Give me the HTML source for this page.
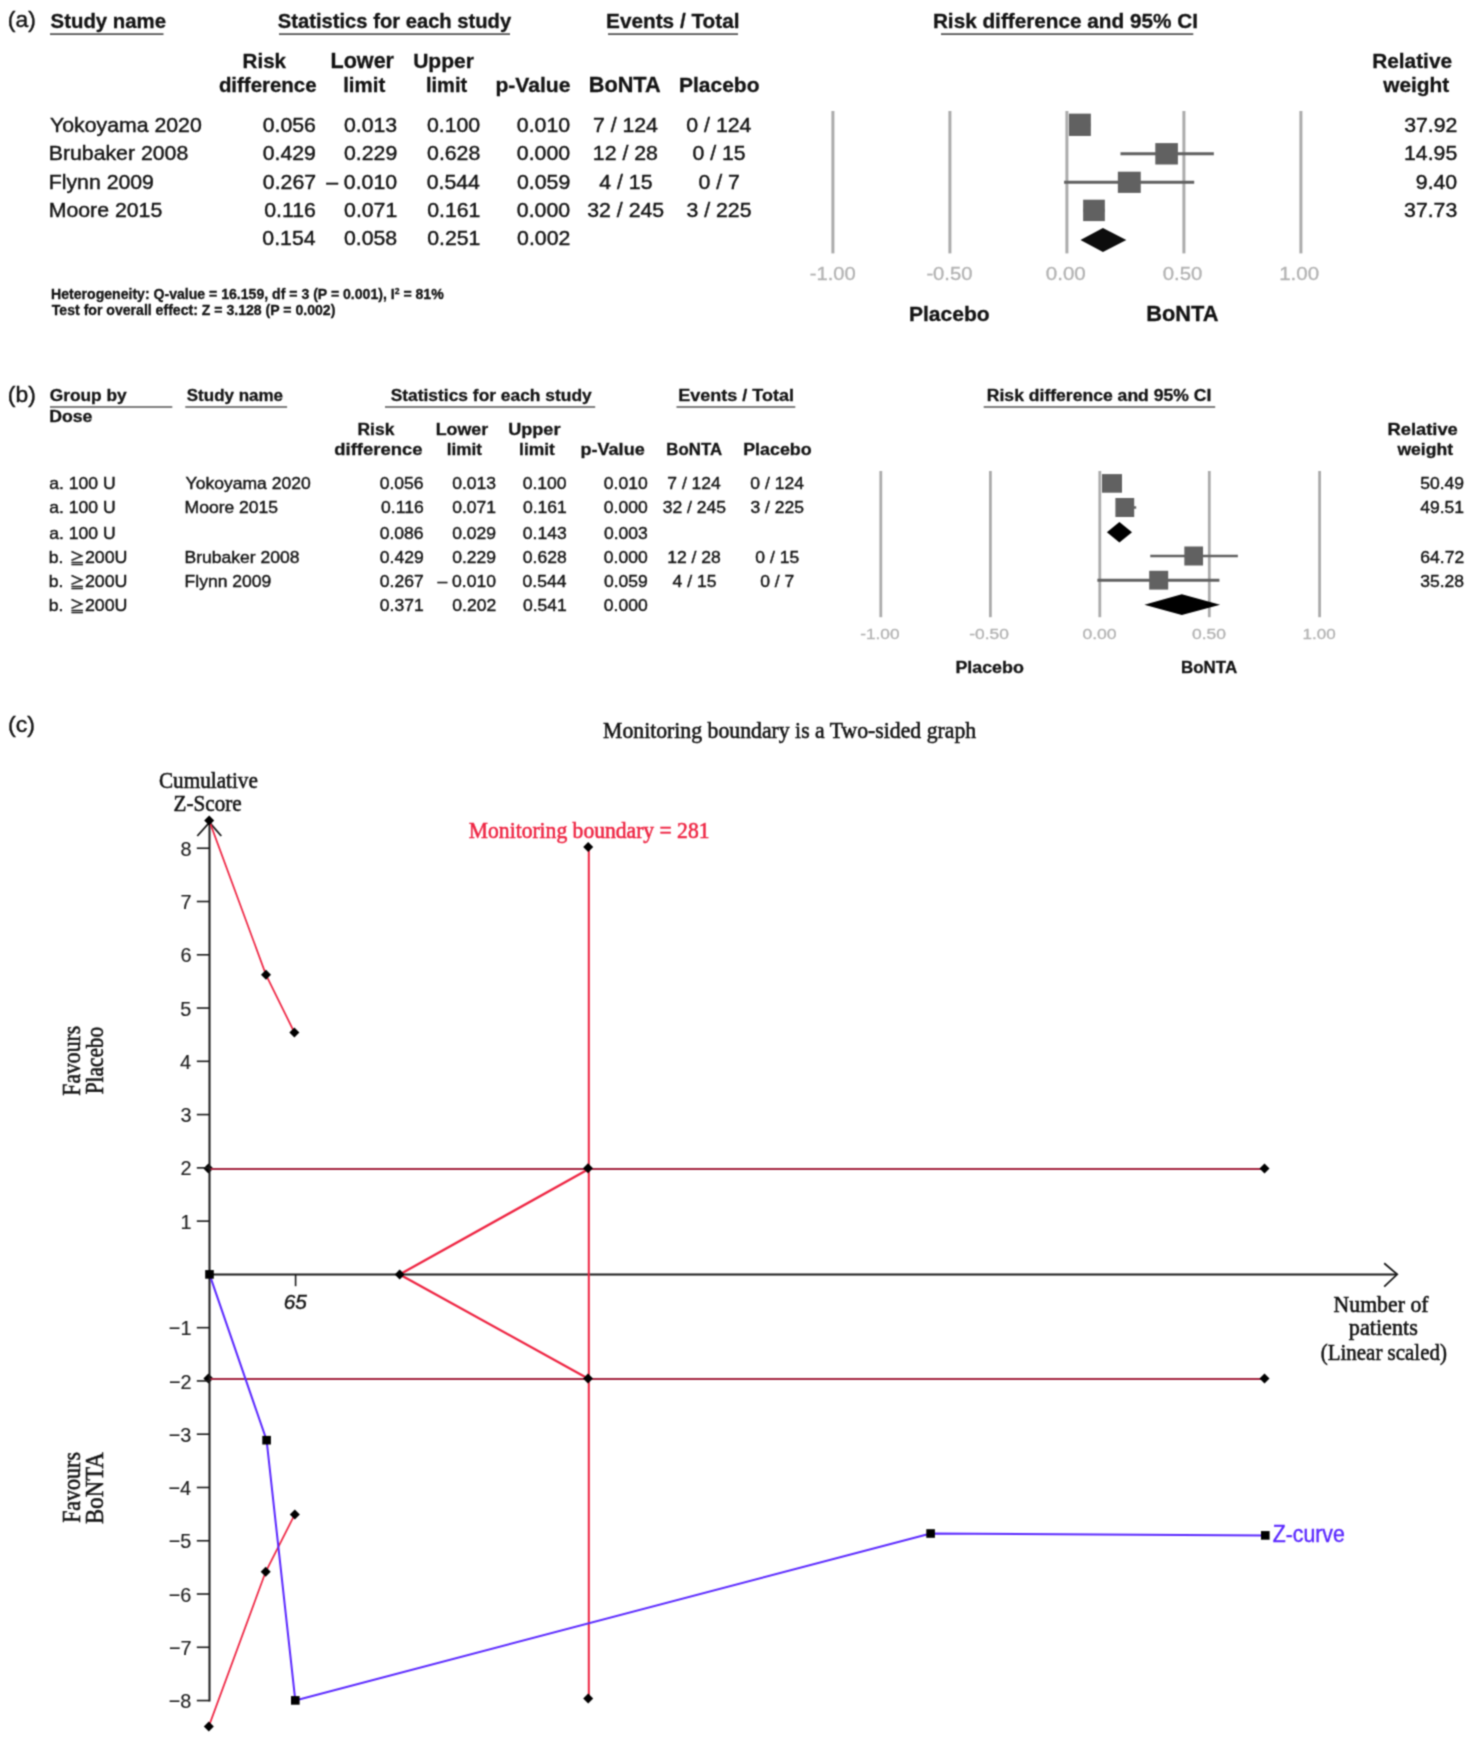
<!DOCTYPE html>
<html lang="en"><head><meta charset="utf-8"><title>Figure</title>
<style>
html,body{margin:0;padding:0;background:#fff;}
body{width:1482px;height:1738px;overflow:hidden;}
svg{display:block;}
</style></head><body>
<svg width="1482" height="1738" viewBox="0 0 1482 1738">
<defs><filter id="soft" x="0" y="0" width="1482" height="1738" filterUnits="userSpaceOnUse" color-interpolation-filters="sRGB"><feConvolveMatrix order="3" kernelMatrix="0.0439 0.1217 0.0439 0.1217 0.3377 0.1217 0.0439 0.1217 0.0439" edgeMode="duplicate" preserveAlpha="true"/></filter></defs>
<g filter="url(#soft)">
<rect width="1482" height="1738" fill="#ffffff"/>
<text transform="translate(7.87 27.00) scale(1.0637 1)" font-family="&quot;Liberation Sans&quot;, Arial, sans-serif" font-size="21.50" fill="#131313" stroke="#131313" stroke-width="0.4">(a)</text>
<text transform="translate(50.59 27.70)" font-family="&quot;Liberation Sans&quot;, Arial, sans-serif" font-size="20.36" font-weight="bold" fill="#131313" stroke="#131313" stroke-width="0.3">Study name</text>
<text transform="translate(277.79 27.70)" font-family="&quot;Liberation Sans&quot;, Arial, sans-serif" font-size="20.19" font-weight="bold" fill="#131313" stroke="#131313" stroke-width="0.3">Statistics for each study</text>
<text transform="translate(606.10 27.70)" font-family="&quot;Liberation Sans&quot;, Arial, sans-serif" font-size="20.75" font-weight="bold" fill="#131313" stroke="#131313" stroke-width="0.3">Events / Total</text>
<text transform="translate(932.90 27.70)" font-family="&quot;Liberation Sans&quot;, Arial, sans-serif" font-size="20.74" font-weight="bold" fill="#131313" stroke="#131313" stroke-width="0.3">Risk difference and 95% CI</text>
<line x1="50.00" y1="34.10" x2="163.50" y2="34.10" stroke="#555555" stroke-width="1.9"/>
<line x1="279.00" y1="34.10" x2="510.00" y2="34.10" stroke="#555555" stroke-width="1.9"/>
<line x1="608.00" y1="34.10" x2="738.00" y2="34.10" stroke="#555555" stroke-width="1.9"/>
<line x1="941.00" y1="34.10" x2="1193.30" y2="34.10" stroke="#555555" stroke-width="1.9"/>
<text transform="translate(242.61 67.60)" font-family="&quot;Liberation Sans&quot;, Arial, sans-serif" font-size="20.54" font-weight="bold" fill="#131313" stroke="#131313" stroke-width="0.3">Risk</text>
<text transform="translate(218.88 92.30)" font-family="&quot;Liberation Sans&quot;, Arial, sans-serif" font-size="20.45" font-weight="bold" fill="#131313" stroke="#131313" stroke-width="0.3">difference</text>
<text transform="translate(330.55 67.60)" font-family="&quot;Liberation Sans&quot;, Arial, sans-serif" font-size="21.55" font-weight="bold" fill="#131313" stroke="#131313" stroke-width="0.3">Lower</text>
<text transform="translate(343.17 92.30)" font-family="&quot;Liberation Sans&quot;, Arial, sans-serif" font-size="20.48" font-weight="bold" fill="#131313" stroke="#131313" stroke-width="0.3">limit</text>
<text transform="translate(413.14 67.60)" font-family="&quot;Liberation Sans&quot;, Arial, sans-serif" font-size="21.03" font-weight="bold" fill="#131313" stroke="#131313" stroke-width="0.3">Upper</text>
<text transform="translate(426.00 92.30)" font-family="&quot;Liberation Sans&quot;, Arial, sans-serif" font-size="20.03" font-weight="bold" fill="#131313" stroke="#131313" stroke-width="0.3">limit</text>
<text transform="translate(495.43 92.30)" font-family="&quot;Liberation Sans&quot;, Arial, sans-serif" font-size="21.11" font-weight="bold" fill="#131313" stroke="#131313" stroke-width="0.3">p-Value</text>
<text transform="translate(588.73 92.30)" font-family="&quot;Liberation Sans&quot;, Arial, sans-serif" font-size="21.71" font-weight="bold" fill="#131313" stroke="#131313" stroke-width="0.3">BoNTA</text>
<text transform="translate(678.98 92.30)" font-family="&quot;Liberation Sans&quot;, Arial, sans-serif" font-size="20.99" font-weight="bold" fill="#131313" stroke="#131313" stroke-width="0.3">Placebo</text>
<text transform="translate(1372.19 67.60)" font-family="&quot;Liberation Sans&quot;, Arial, sans-serif" font-size="20.83" font-weight="bold" fill="#131313" stroke="#131313" stroke-width="0.3">Relative</text>
<text transform="translate(1383.15 92.30)" font-family="&quot;Liberation Sans&quot;, Arial, sans-serif" font-size="20.86" font-weight="bold" fill="#131313" stroke="#131313" stroke-width="0.3">weight</text>
<text transform="translate(50.02 131.80) scale(1.0430 1)" font-family="&quot;Liberation Sans&quot;, Arial, sans-serif" font-size="20.40" fill="#131313" stroke="#131313" stroke-width="0.4">Yokoyama 2020</text>
<text transform="translate(262.66 131.80) scale(1.0430 1)" font-family="&quot;Liberation Sans&quot;, Arial, sans-serif" font-size="20.40" fill="#131313" stroke="#131313" stroke-width="0.4">0.056</text>
<text transform="translate(343.96 131.80) scale(1.0430 1)" font-family="&quot;Liberation Sans&quot;, Arial, sans-serif" font-size="20.40" fill="#131313" stroke="#131313" stroke-width="0.4">0.013</text>
<text transform="translate(426.95 131.80) scale(1.0430 1)" font-family="&quot;Liberation Sans&quot;, Arial, sans-serif" font-size="20.40" fill="#131313" stroke="#131313" stroke-width="0.4">0.100</text>
<text transform="translate(516.85 131.80) scale(1.0430 1)" font-family="&quot;Liberation Sans&quot;, Arial, sans-serif" font-size="20.40" fill="#131313" stroke="#131313" stroke-width="0.4">0.010</text>
<text transform="translate(592.91 131.80) scale(1.0430 1)" font-family="&quot;Liberation Sans&quot;, Arial, sans-serif" font-size="20.40" fill="#131313" stroke="#131313" stroke-width="0.4">7 / 124</text>
<text transform="translate(686.34 131.80) scale(1.0430 1)" font-family="&quot;Liberation Sans&quot;, Arial, sans-serif" font-size="20.40" fill="#131313" stroke="#131313" stroke-width="0.4">0 / 124</text>
<text transform="translate(1404.22 131.80) scale(1.0430 1)" font-family="&quot;Liberation Sans&quot;, Arial, sans-serif" font-size="20.40" fill="#131313" stroke="#131313" stroke-width="0.4">37.92</text>
<text transform="translate(48.74 160.15) scale(1.0430 1)" font-family="&quot;Liberation Sans&quot;, Arial, sans-serif" font-size="20.40" fill="#131313" stroke="#131313" stroke-width="0.4">Brubaker 2008</text>
<text transform="translate(262.71 160.15) scale(1.0430 1)" font-family="&quot;Liberation Sans&quot;, Arial, sans-serif" font-size="20.40" fill="#131313" stroke="#131313" stroke-width="0.4">0.429</text>
<text transform="translate(344.01 160.15) scale(1.0430 1)" font-family="&quot;Liberation Sans&quot;, Arial, sans-serif" font-size="20.40" fill="#131313" stroke="#131313" stroke-width="0.4">0.229</text>
<text transform="translate(427.06 160.15) scale(1.0430 1)" font-family="&quot;Liberation Sans&quot;, Arial, sans-serif" font-size="20.40" fill="#131313" stroke="#131313" stroke-width="0.4">0.628</text>
<text transform="translate(516.85 160.15) scale(1.0430 1)" font-family="&quot;Liberation Sans&quot;, Arial, sans-serif" font-size="20.40" fill="#131313" stroke="#131313" stroke-width="0.4">0.000</text>
<text transform="translate(592.83 160.15) scale(1.0430 1)" font-family="&quot;Liberation Sans&quot;, Arial, sans-serif" font-size="20.40" fill="#131313" stroke="#131313" stroke-width="0.4">12 / 28</text>
<text transform="translate(692.40 160.15) scale(1.0430 1)" font-family="&quot;Liberation Sans&quot;, Arial, sans-serif" font-size="20.40" fill="#131313" stroke="#131313" stroke-width="0.4">0 / 15</text>
<text transform="translate(1404.00 160.15) scale(1.0430 1)" font-family="&quot;Liberation Sans&quot;, Arial, sans-serif" font-size="20.40" fill="#131313" stroke="#131313" stroke-width="0.4">14.95</text>
<text transform="translate(48.74 188.50) scale(1.0430 1)" font-family="&quot;Liberation Sans&quot;, Arial, sans-serif" font-size="20.40" fill="#131313" stroke="#131313" stroke-width="0.4">Flynn 2009</text>
<text transform="translate(262.82 188.50) scale(1.0430 1)" font-family="&quot;Liberation Sans&quot;, Arial, sans-serif" font-size="20.40" fill="#131313" stroke="#131313" stroke-width="0.4">0.267</text>
<text transform="translate(326.14 188.50) scale(1.0430 1)" font-family="&quot;Liberation Sans&quot;, Arial, sans-serif" font-size="20.40" fill="#131313" stroke="#131313" stroke-width="0.4">– 0.010</text>
<text transform="translate(426.74 188.50) scale(1.0430 1)" font-family="&quot;Liberation Sans&quot;, Arial, sans-serif" font-size="20.40" fill="#131313" stroke="#131313" stroke-width="0.4">0.544</text>
<text transform="translate(517.01 188.50) scale(1.0430 1)" font-family="&quot;Liberation Sans&quot;, Arial, sans-serif" font-size="20.40" fill="#131313" stroke="#131313" stroke-width="0.4">0.059</text>
<text transform="translate(599.29 188.50) scale(1.0430 1)" font-family="&quot;Liberation Sans&quot;, Arial, sans-serif" font-size="20.40" fill="#131313" stroke="#131313" stroke-width="0.4">4 / 15</text>
<text transform="translate(698.41 188.50) scale(1.0430 1)" font-family="&quot;Liberation Sans&quot;, Arial, sans-serif" font-size="20.40" fill="#131313" stroke="#131313" stroke-width="0.4">0 / 7</text>
<text transform="translate(1415.81 188.50) scale(1.0430 1)" font-family="&quot;Liberation Sans&quot;, Arial, sans-serif" font-size="20.40" fill="#131313" stroke="#131313" stroke-width="0.4">9.40</text>
<text transform="translate(48.74 216.85) scale(1.0430 1)" font-family="&quot;Liberation Sans&quot;, Arial, sans-serif" font-size="20.40" fill="#131313" stroke="#131313" stroke-width="0.4">Moore 2015</text>
<text transform="translate(264.25 216.85) scale(1.0430 1)" font-family="&quot;Liberation Sans&quot;, Arial, sans-serif" font-size="20.40" fill="#131313" stroke="#131313" stroke-width="0.4">0.116</text>
<text transform="translate(344.06 216.85) scale(1.0430 1)" font-family="&quot;Liberation Sans&quot;, Arial, sans-serif" font-size="20.40" fill="#131313" stroke="#131313" stroke-width="0.4">0.071</text>
<text transform="translate(427.16 216.85) scale(1.0430 1)" font-family="&quot;Liberation Sans&quot;, Arial, sans-serif" font-size="20.40" fill="#131313" stroke="#131313" stroke-width="0.4">0.161</text>
<text transform="translate(516.85 216.85) scale(1.0430 1)" font-family="&quot;Liberation Sans&quot;, Arial, sans-serif" font-size="20.40" fill="#131313" stroke="#131313" stroke-width="0.4">0.000</text>
<text transform="translate(587.29 216.85) scale(1.0430 1)" font-family="&quot;Liberation Sans&quot;, Arial, sans-serif" font-size="20.40" fill="#131313" stroke="#131313" stroke-width="0.4">32 / 245</text>
<text transform="translate(686.50 216.85) scale(1.0430 1)" font-family="&quot;Liberation Sans&quot;, Arial, sans-serif" font-size="20.40" fill="#131313" stroke="#131313" stroke-width="0.4">3 / 225</text>
<text transform="translate(1404.06 216.85) scale(1.0430 1)" font-family="&quot;Liberation Sans&quot;, Arial, sans-serif" font-size="20.40" fill="#131313" stroke="#131313" stroke-width="0.4">37.73</text>
<text transform="translate(262.34 245.20) scale(1.0430 1)" font-family="&quot;Liberation Sans&quot;, Arial, sans-serif" font-size="20.40" fill="#131313" stroke="#131313" stroke-width="0.4">0.154</text>
<text transform="translate(343.96 245.20) scale(1.0430 1)" font-family="&quot;Liberation Sans&quot;, Arial, sans-serif" font-size="20.40" fill="#131313" stroke="#131313" stroke-width="0.4">0.058</text>
<text transform="translate(427.16 245.20) scale(1.0430 1)" font-family="&quot;Liberation Sans&quot;, Arial, sans-serif" font-size="20.40" fill="#131313" stroke="#131313" stroke-width="0.4">0.251</text>
<text transform="translate(517.12 245.20) scale(1.0430 1)" font-family="&quot;Liberation Sans&quot;, Arial, sans-serif" font-size="20.40" fill="#131313" stroke="#131313" stroke-width="0.4">0.002</text>
<text transform="translate(51.05 298.90)" font-family="&quot;Liberation Sans&quot;, Arial, sans-serif" font-size="14.08" font-weight="bold" fill="#131313" stroke="#131313" stroke-width="0.3">Heterogeneity: Q-value = 16.159, df = 3 (P = 0.001), I<tspan dy="-4.6" font-size="8.6">2</tspan><tspan dy="4.6"> = 81%</tspan></text>
<text transform="translate(51.82 315.40)" font-family="&quot;Liberation Sans&quot;, Arial, sans-serif" font-size="14.08" font-weight="bold" fill="#131313" stroke="#131313" stroke-width="0.3">Test for overall effect: Z = 3.128 (P = 0.002)</text>
<line x1="832.90" y1="111.00" x2="832.90" y2="253.40" stroke="#ababab" stroke-width="3.0"/>
<line x1="949.90" y1="111.00" x2="949.90" y2="253.40" stroke="#ababab" stroke-width="3.0"/>
<line x1="1066.90" y1="111.00" x2="1066.90" y2="253.40" stroke="#ababab" stroke-width="3.0"/>
<line x1="1183.90" y1="111.00" x2="1183.90" y2="253.40" stroke="#ababab" stroke-width="3.0"/>
<line x1="1300.90" y1="111.00" x2="1300.90" y2="253.40" stroke="#ababab" stroke-width="3.0"/>
<line x1="1069.94" y1="124.80" x2="1090.30" y2="124.80" stroke="#616161" stroke-width="3.0"/>
<line x1="1120.49" y1="153.80" x2="1213.85" y2="153.80" stroke="#616161" stroke-width="3.0"/>
<line x1="1064.09" y1="182.30" x2="1194.20" y2="182.30" stroke="#616161" stroke-width="3.0"/>
<line x1="1083.51" y1="210.40" x2="1104.57" y2="210.40" stroke="#616161" stroke-width="3.0"/>
<rect x="1068.95" y="113.65" width="21.90" height="22.30" fill="#616161"/>
<rect x="1155.30" y="143.10" width="22.60" height="21.40" fill="#616161"/>
<rect x="1117.85" y="171.70" width="22.90" height="21.20" fill="#616161"/>
<rect x="1083.15" y="199.70" width="21.70" height="21.40" fill="#616161"/>
<polygon points="1080.47,239.90 1102.94,227.90 1126.30,239.90 1102.94,252.00" fill="#0d0d0d"/>
<text transform="translate(809.79 279.50) scale(1.1004 1)" font-family="&quot;Liberation Sans&quot;, Arial, sans-serif" font-size="18.30" fill="#b2b2b2" stroke="#b2b2b2" stroke-width="0.3">-1.00</text>
<text transform="translate(926.39 279.50) scale(1.1053 1)" font-family="&quot;Liberation Sans&quot;, Arial, sans-serif" font-size="18.30" fill="#b2b2b2" stroke="#b2b2b2" stroke-width="0.3">-0.50</text>
<text transform="translate(1045.78 279.50) scale(1.1236 1)" font-family="&quot;Liberation Sans&quot;, Arial, sans-serif" font-size="18.30" fill="#b2b2b2" stroke="#b2b2b2" stroke-width="0.3">0.00</text>
<text transform="translate(1162.68 279.50) scale(1.1148 1)" font-family="&quot;Liberation Sans&quot;, Arial, sans-serif" font-size="18.30" fill="#b2b2b2" stroke="#b2b2b2" stroke-width="0.3">0.50</text>
<text transform="translate(1279.16 279.50) scale(1.1212 1)" font-family="&quot;Liberation Sans&quot;, Arial, sans-serif" font-size="18.30" fill="#b2b2b2" stroke="#b2b2b2" stroke-width="0.3">1.00</text>
<text transform="translate(908.88 321.00)" font-family="&quot;Liberation Sans&quot;, Arial, sans-serif" font-size="21.07" font-weight="bold" fill="#131313" stroke="#131313" stroke-width="0.3">Placebo</text>
<text transform="translate(1146.23 321.00)" font-family="&quot;Liberation Sans&quot;, Arial, sans-serif" font-size="21.80" font-weight="bold" fill="#131313" stroke="#131313" stroke-width="0.3">BoNTA</text>
<text transform="translate(7.87 402.30) scale(1.0637 1)" font-family="&quot;Liberation Sans&quot;, Arial, sans-serif" font-size="21.50" fill="#131313" stroke="#131313" stroke-width="0.4">(b)</text>
<text transform="translate(49.71 401.20) scale(1.1108 1)" font-family="&quot;Liberation Sans&quot;, Arial, sans-serif" font-size="15.60" font-weight="bold" fill="#131313" stroke="#1c1c1c" stroke-width="0.3">Group by</text>
<text transform="translate(49.21 421.70) scale(1.1344 1)" font-family="&quot;Liberation Sans&quot;, Arial, sans-serif" font-size="15.60" font-weight="bold" fill="#131313" stroke="#1c1c1c" stroke-width="0.3">Dose</text>
<text transform="translate(186.79 401.20) scale(1.0899 1)" font-family="&quot;Liberation Sans&quot;, Arial, sans-serif" font-size="15.60" font-weight="bold" fill="#131313" stroke="#1c1c1c" stroke-width="0.3">Study name</text>
<text transform="translate(390.68 401.20) scale(1.1154 1)" font-family="&quot;Liberation Sans&quot;, Arial, sans-serif" font-size="15.60" font-weight="bold" fill="#131313" stroke="#1c1c1c" stroke-width="0.3">Statistics for each study</text>
<text transform="translate(678.28 401.20) scale(1.1547 1)" font-family="&quot;Liberation Sans&quot;, Arial, sans-serif" font-size="15.60" font-weight="bold" fill="#131313" stroke="#1c1c1c" stroke-width="0.3">Events / Total</text>
<text transform="translate(986.81 401.20) scale(1.1262 1)" font-family="&quot;Liberation Sans&quot;, Arial, sans-serif" font-size="15.60" font-weight="bold" fill="#131313" stroke="#1c1c1c" stroke-width="0.3">Risk difference and 95% CI</text>
<line x1="50.00" y1="407.10" x2="172.30" y2="407.10" stroke="#555555" stroke-width="1.5"/>
<line x1="185.30" y1="407.10" x2="287.10" y2="407.10" stroke="#555555" stroke-width="1.5"/>
<line x1="385.00" y1="407.10" x2="595.20" y2="407.10" stroke="#555555" stroke-width="1.5"/>
<line x1="676.50" y1="407.10" x2="795.30" y2="407.10" stroke="#555555" stroke-width="1.5"/>
<line x1="983.70" y1="407.10" x2="1215.20" y2="407.10" stroke="#555555" stroke-width="1.5"/>
<text transform="translate(357.52 434.90) scale(1.1191 1)" font-family="&quot;Liberation Sans&quot;, Arial, sans-serif" font-size="15.60" font-weight="bold" fill="#131313" stroke="#1c1c1c" stroke-width="0.3">Risk</text>
<text transform="translate(334.26 454.90) scale(1.1840 1)" font-family="&quot;Liberation Sans&quot;, Arial, sans-serif" font-size="15.60" font-weight="bold" fill="#131313" stroke="#1c1c1c" stroke-width="0.3">difference</text>
<text transform="translate(435.70 434.90) scale(1.1443 1)" font-family="&quot;Liberation Sans&quot;, Arial, sans-serif" font-size="15.60" font-weight="bold" fill="#131313" stroke="#1c1c1c" stroke-width="0.3">Lower</text>
<text transform="translate(446.70 454.90) scale(1.1017 1)" font-family="&quot;Liberation Sans&quot;, Arial, sans-serif" font-size="15.60" font-weight="bold" fill="#131313" stroke="#1c1c1c" stroke-width="0.3">limit</text>
<text transform="translate(508.22 434.90) scale(1.1591 1)" font-family="&quot;Liberation Sans&quot;, Arial, sans-serif" font-size="15.60" font-weight="bold" fill="#131313" stroke="#1c1c1c" stroke-width="0.3">Upper</text>
<text transform="translate(519.08 454.90) scale(1.1179 1)" font-family="&quot;Liberation Sans&quot;, Arial, sans-serif" font-size="15.60" font-weight="bold" fill="#131313" stroke="#1c1c1c" stroke-width="0.3">limit</text>
<text transform="translate(580.53 454.90) scale(1.1569 1)" font-family="&quot;Liberation Sans&quot;, Arial, sans-serif" font-size="15.60" font-weight="bold" fill="#131313" stroke="#1c1c1c" stroke-width="0.3">p-Value</text>
<text transform="translate(666.37 454.90) scale(1.0770 1)" font-family="&quot;Liberation Sans&quot;, Arial, sans-serif" font-size="15.60" font-weight="bold" fill="#131313" stroke="#1c1c1c" stroke-width="0.3">BoNTA</text>
<text transform="translate(743.19 454.90) scale(1.1446 1)" font-family="&quot;Liberation Sans&quot;, Arial, sans-serif" font-size="15.60" font-weight="bold" fill="#131313" stroke="#1c1c1c" stroke-width="0.3">Placebo</text>
<text transform="translate(1387.46 434.90) scale(1.1774 1)" font-family="&quot;Liberation Sans&quot;, Arial, sans-serif" font-size="15.60" font-weight="bold" fill="#131313" stroke="#1c1c1c" stroke-width="0.3">Relative</text>
<text transform="translate(1397.44 454.90) scale(1.1256 1)" font-family="&quot;Liberation Sans&quot;, Arial, sans-serif" font-size="15.60" font-weight="bold" fill="#131313" stroke="#1c1c1c" stroke-width="0.3">weight</text>
<text transform="translate(49.25 489.40) scale(1.0230 1)" font-family="&quot;Liberation Sans&quot;, Arial, sans-serif" font-size="17.20" fill="#131313" stroke="#131313" stroke-width="0.4">a. 100 U</text>
<text transform="translate(185.61 489.40) scale(1.0200 1)" font-family="&quot;Liberation Sans&quot;, Arial, sans-serif" font-size="17.20" fill="#131313" stroke="#131313" stroke-width="0.4">Yokoyama 2020</text>
<text transform="translate(379.74 489.40) scale(1.0200 1)" font-family="&quot;Liberation Sans&quot;, Arial, sans-serif" font-size="17.20" fill="#131313" stroke="#131313" stroke-width="0.4">0.056</text>
<text transform="translate(452.14 489.40) scale(1.0200 1)" font-family="&quot;Liberation Sans&quot;, Arial, sans-serif" font-size="17.20" fill="#131313" stroke="#131313" stroke-width="0.4">0.013</text>
<text transform="translate(522.75 489.40) scale(1.0200 1)" font-family="&quot;Liberation Sans&quot;, Arial, sans-serif" font-size="17.20" fill="#131313" stroke="#131313" stroke-width="0.4">0.100</text>
<text transform="translate(603.85 489.40) scale(1.0200 1)" font-family="&quot;Liberation Sans&quot;, Arial, sans-serif" font-size="17.20" fill="#131313" stroke="#131313" stroke-width="0.4">0.010</text>
<text transform="translate(667.26 489.40) scale(1.0200 1)" font-family="&quot;Liberation Sans&quot;, Arial, sans-serif" font-size="17.20" fill="#131313" stroke="#131313" stroke-width="0.4">7 / 124</text>
<text transform="translate(750.27 489.40) scale(1.0200 1)" font-family="&quot;Liberation Sans&quot;, Arial, sans-serif" font-size="17.20" fill="#131313" stroke="#131313" stroke-width="0.4">0 / 124</text>
<text transform="translate(1420.19 489.40) scale(1.0200 1)" font-family="&quot;Liberation Sans&quot;, Arial, sans-serif" font-size="17.20" fill="#131313" stroke="#131313" stroke-width="0.4">50.49</text>
<text transform="translate(49.25 513.40) scale(1.0230 1)" font-family="&quot;Liberation Sans&quot;, Arial, sans-serif" font-size="17.20" fill="#131313" stroke="#131313" stroke-width="0.4">a. 100 U</text>
<text transform="translate(184.55 513.40) scale(1.0200 1)" font-family="&quot;Liberation Sans&quot;, Arial, sans-serif" font-size="17.20" fill="#131313" stroke="#131313" stroke-width="0.4">Moore 2015</text>
<text transform="translate(381.06 513.40) scale(1.0200 1)" font-family="&quot;Liberation Sans&quot;, Arial, sans-serif" font-size="17.20" fill="#131313" stroke="#131313" stroke-width="0.4">0.116</text>
<text transform="translate(452.23 513.40) scale(1.0200 1)" font-family="&quot;Liberation Sans&quot;, Arial, sans-serif" font-size="17.20" fill="#131313" stroke="#131313" stroke-width="0.4">0.071</text>
<text transform="translate(522.93 513.40) scale(1.0200 1)" font-family="&quot;Liberation Sans&quot;, Arial, sans-serif" font-size="17.20" fill="#131313" stroke="#131313" stroke-width="0.4">0.161</text>
<text transform="translate(603.85 513.40) scale(1.0200 1)" font-family="&quot;Liberation Sans&quot;, Arial, sans-serif" font-size="17.20" fill="#131313" stroke="#131313" stroke-width="0.4">0.000</text>
<text transform="translate(662.63 513.40) scale(1.0200 1)" font-family="&quot;Liberation Sans&quot;, Arial, sans-serif" font-size="17.20" fill="#131313" stroke="#131313" stroke-width="0.4">32 / 245</text>
<text transform="translate(750.40 513.40) scale(1.0200 1)" font-family="&quot;Liberation Sans&quot;, Arial, sans-serif" font-size="17.20" fill="#131313" stroke="#131313" stroke-width="0.4">3 / 225</text>
<text transform="translate(1420.23 513.40) scale(1.0200 1)" font-family="&quot;Liberation Sans&quot;, Arial, sans-serif" font-size="17.20" fill="#131313" stroke="#131313" stroke-width="0.4">49.51</text>
<text transform="translate(49.25 538.70) scale(1.0230 1)" font-family="&quot;Liberation Sans&quot;, Arial, sans-serif" font-size="17.20" fill="#131313" stroke="#131313" stroke-width="0.4">a. 100 U</text>
<text transform="translate(379.74 538.70) scale(1.0200 1)" font-family="&quot;Liberation Sans&quot;, Arial, sans-serif" font-size="17.20" fill="#131313" stroke="#131313" stroke-width="0.4">0.086</text>
<text transform="translate(452.19 538.70) scale(1.0200 1)" font-family="&quot;Liberation Sans&quot;, Arial, sans-serif" font-size="17.20" fill="#131313" stroke="#131313" stroke-width="0.4">0.029</text>
<text transform="translate(522.84 538.70) scale(1.0200 1)" font-family="&quot;Liberation Sans&quot;, Arial, sans-serif" font-size="17.20" fill="#131313" stroke="#131313" stroke-width="0.4">0.143</text>
<text transform="translate(603.94 538.70) scale(1.0200 1)" font-family="&quot;Liberation Sans&quot;, Arial, sans-serif" font-size="17.20" fill="#131313" stroke="#131313" stroke-width="0.4">0.003</text>
<text transform="translate(48.86 562.60) scale(1.0200 1)" font-family="&quot;Liberation Sans&quot;, Arial, sans-serif" font-size="17.20" fill="#131313" stroke="#131313" stroke-width="0.4">b.</text>
<text x="69.8" y="563.60" stroke="#131313" stroke-width="0.35" font-family="&quot;Liberation Sans&quot;, &quot;Noto Sans CJK JP&quot;, sans-serif" font-size="14.5" fill="#131313" textLength="15" lengthAdjust="spacingAndGlyphs">≧</text>
<text transform="translate(84.91 562.60) scale(1.0356 1)" font-family="&quot;Liberation Sans&quot;, Arial, sans-serif" font-size="17.20" fill="#131313" stroke="#131313" stroke-width="0.4">200U</text>
<text transform="translate(184.55 562.60) scale(1.0200 1)" font-family="&quot;Liberation Sans&quot;, Arial, sans-serif" font-size="17.20" fill="#131313" stroke="#131313" stroke-width="0.4">Brubaker 2008</text>
<text transform="translate(379.79 562.60) scale(1.0200 1)" font-family="&quot;Liberation Sans&quot;, Arial, sans-serif" font-size="17.20" fill="#131313" stroke="#131313" stroke-width="0.4">0.429</text>
<text transform="translate(452.19 562.60) scale(1.0200 1)" font-family="&quot;Liberation Sans&quot;, Arial, sans-serif" font-size="17.20" fill="#131313" stroke="#131313" stroke-width="0.4">0.229</text>
<text transform="translate(522.84 562.60) scale(1.0200 1)" font-family="&quot;Liberation Sans&quot;, Arial, sans-serif" font-size="17.20" fill="#131313" stroke="#131313" stroke-width="0.4">0.628</text>
<text transform="translate(603.85 562.60) scale(1.0200 1)" font-family="&quot;Liberation Sans&quot;, Arial, sans-serif" font-size="17.20" fill="#131313" stroke="#131313" stroke-width="0.4">0.000</text>
<text transform="translate(667.19 562.60) scale(1.0200 1)" font-family="&quot;Liberation Sans&quot;, Arial, sans-serif" font-size="17.20" fill="#131313" stroke="#131313" stroke-width="0.4">12 / 28</text>
<text transform="translate(755.27 562.60) scale(1.0200 1)" font-family="&quot;Liberation Sans&quot;, Arial, sans-serif" font-size="17.20" fill="#131313" stroke="#131313" stroke-width="0.4">0 / 15</text>
<text transform="translate(1420.27 562.60) scale(1.0200 1)" font-family="&quot;Liberation Sans&quot;, Arial, sans-serif" font-size="17.20" fill="#131313" stroke="#131313" stroke-width="0.4">64.72</text>
<text transform="translate(48.86 586.90) scale(1.0200 1)" font-family="&quot;Liberation Sans&quot;, Arial, sans-serif" font-size="17.20" fill="#131313" stroke="#131313" stroke-width="0.4">b.</text>
<text x="69.8" y="587.90" stroke="#131313" stroke-width="0.35" font-family="&quot;Liberation Sans&quot;, &quot;Noto Sans CJK JP&quot;, sans-serif" font-size="14.5" fill="#131313" textLength="15" lengthAdjust="spacingAndGlyphs">≧</text>
<text transform="translate(84.91 586.90) scale(1.0356 1)" font-family="&quot;Liberation Sans&quot;, Arial, sans-serif" font-size="17.20" fill="#131313" stroke="#131313" stroke-width="0.4">200U</text>
<text transform="translate(184.55 586.90) scale(1.0200 1)" font-family="&quot;Liberation Sans&quot;, Arial, sans-serif" font-size="17.20" fill="#131313" stroke="#131313" stroke-width="0.4">Flynn 2009</text>
<text transform="translate(379.87 586.90) scale(1.0200 1)" font-family="&quot;Liberation Sans&quot;, Arial, sans-serif" font-size="17.20" fill="#131313" stroke="#131313" stroke-width="0.4">0.267</text>
<text transform="translate(437.45 586.90) scale(1.0200 1)" font-family="&quot;Liberation Sans&quot;, Arial, sans-serif" font-size="17.20" fill="#131313" stroke="#131313" stroke-width="0.4">– 0.010</text>
<text transform="translate(522.58 586.90) scale(1.0200 1)" font-family="&quot;Liberation Sans&quot;, Arial, sans-serif" font-size="17.20" fill="#131313" stroke="#131313" stroke-width="0.4">0.544</text>
<text transform="translate(603.99 586.90) scale(1.0200 1)" font-family="&quot;Liberation Sans&quot;, Arial, sans-serif" font-size="17.20" fill="#131313" stroke="#131313" stroke-width="0.4">0.059</text>
<text transform="translate(672.52 586.90) scale(1.0200 1)" font-family="&quot;Liberation Sans&quot;, Arial, sans-serif" font-size="17.20" fill="#131313" stroke="#131313" stroke-width="0.4">4 / 15</text>
<text transform="translate(760.23 586.90) scale(1.0200 1)" font-family="&quot;Liberation Sans&quot;, Arial, sans-serif" font-size="17.20" fill="#131313" stroke="#131313" stroke-width="0.4">0 / 7</text>
<text transform="translate(1420.14 586.90) scale(1.0200 1)" font-family="&quot;Liberation Sans&quot;, Arial, sans-serif" font-size="17.20" fill="#131313" stroke="#131313" stroke-width="0.4">35.28</text>
<text transform="translate(48.86 611.30) scale(1.0200 1)" font-family="&quot;Liberation Sans&quot;, Arial, sans-serif" font-size="17.20" fill="#131313" stroke="#131313" stroke-width="0.4">b.</text>
<text x="69.8" y="612.30" stroke="#131313" stroke-width="0.35" font-family="&quot;Liberation Sans&quot;, &quot;Noto Sans CJK JP&quot;, sans-serif" font-size="14.5" fill="#131313" textLength="15" lengthAdjust="spacingAndGlyphs">≧</text>
<text transform="translate(84.91 611.30) scale(1.0356 1)" font-family="&quot;Liberation Sans&quot;, Arial, sans-serif" font-size="17.20" fill="#131313" stroke="#131313" stroke-width="0.4">200U</text>
<text transform="translate(379.83 611.30) scale(1.0200 1)" font-family="&quot;Liberation Sans&quot;, Arial, sans-serif" font-size="17.20" fill="#131313" stroke="#131313" stroke-width="0.4">0.371</text>
<text transform="translate(452.27 611.30) scale(1.0200 1)" font-family="&quot;Liberation Sans&quot;, Arial, sans-serif" font-size="17.20" fill="#131313" stroke="#131313" stroke-width="0.4">0.202</text>
<text transform="translate(522.93 611.30) scale(1.0200 1)" font-family="&quot;Liberation Sans&quot;, Arial, sans-serif" font-size="17.20" fill="#131313" stroke="#131313" stroke-width="0.4">0.541</text>
<text transform="translate(603.85 611.30) scale(1.0200 1)" font-family="&quot;Liberation Sans&quot;, Arial, sans-serif" font-size="17.20" fill="#131313" stroke="#131313" stroke-width="0.4">0.000</text>
<line x1="880.80" y1="471.00" x2="880.80" y2="617.20" stroke="#ababab" stroke-width="2.8"/>
<line x1="990.40" y1="471.00" x2="990.40" y2="617.20" stroke="#ababab" stroke-width="2.8"/>
<line x1="1099.80" y1="471.00" x2="1099.80" y2="617.20" stroke="#ababab" stroke-width="2.8"/>
<line x1="1209.30" y1="471.00" x2="1209.30" y2="617.20" stroke="#ababab" stroke-width="2.8"/>
<line x1="1319.60" y1="471.00" x2="1319.60" y2="617.20" stroke="#ababab" stroke-width="2.8"/>
<line x1="1103.00" y1="483.40" x2="1121.00" y2="483.40" stroke="#616161" stroke-width="2.2"/>
<line x1="1117.00" y1="507.50" x2="1136.20" y2="507.50" stroke="#616161" stroke-width="2.4"/>
<line x1="1150.27" y1="556.00" x2="1237.85" y2="556.00" stroke="#616161" stroke-width="2.4"/>
<line x1="1097.37" y1="580.20" x2="1219.41" y2="580.20" stroke="#616161" stroke-width="3.0"/>
<rect x="1102.00" y="474.10" width="20.00" height="18.60" fill="#616161"/>
<rect x="1115.40" y="498.00" width="18.80" height="19.00" fill="#616161"/>
<rect x="1184.35" y="546.50" width="18.70" height="19.00" fill="#616161"/>
<rect x="1149.20" y="570.80" width="19.00" height="18.80" fill="#616161"/>
<polygon points="1106.90,532.30 1119.40,522.00 1132.00,532.30 1119.40,542.60" fill="#000"/>
<polygon points="1144.40,604.70 1181.80,594.30 1220.10,604.70 1181.80,615.10" fill="#000"/>
<text transform="translate(860.22 639.20) scale(1.1140 1)" font-family="&quot;Liberation Sans&quot;, Arial, sans-serif" font-size="15.50" fill="#b2b2b2" stroke="#b2b2b2" stroke-width="0.3">-1.00</text>
<text transform="translate(969.22 639.20) scale(1.1228 1)" font-family="&quot;Liberation Sans&quot;, Arial, sans-serif" font-size="15.50" fill="#b2b2b2" stroke="#b2b2b2" stroke-width="0.3">-0.50</text>
<text transform="translate(1082.40 639.20) scale(1.1366 1)" font-family="&quot;Liberation Sans&quot;, Arial, sans-serif" font-size="15.50" fill="#b2b2b2" stroke="#b2b2b2" stroke-width="0.3">0.00</text>
<text transform="translate(1192.00 639.20) scale(1.1297 1)" font-family="&quot;Liberation Sans&quot;, Arial, sans-serif" font-size="15.50" fill="#b2b2b2" stroke="#b2b2b2" stroke-width="0.3">0.50</text>
<text transform="translate(1302.52 639.20) scale(1.0984 1)" font-family="&quot;Liberation Sans&quot;, Arial, sans-serif" font-size="15.50" fill="#b2b2b2" stroke="#b2b2b2" stroke-width="0.3">1.00</text>
<text transform="translate(955.39 672.90) scale(1.1446 1)" font-family="&quot;Liberation Sans&quot;, Arial, sans-serif" font-size="15.60" font-weight="bold" fill="#131313" stroke="#1c1c1c" stroke-width="0.3">Placebo</text>
<text transform="translate(1181.06 672.90) scale(1.0850 1)" font-family="&quot;Liberation Sans&quot;, Arial, sans-serif" font-size="15.60" font-weight="bold" fill="#131313" stroke="#1c1c1c" stroke-width="0.3">BoNTA</text>
<text transform="translate(8.06 732.30) scale(1.0733 1)" font-family="&quot;Liberation Sans&quot;, Arial, sans-serif" font-size="21.50" fill="#131313" stroke="#131313" stroke-width="0.4">(c)</text>
<text transform="translate(603.05 738.30) scale(0.9459 1)" font-family="&quot;Liberation Serif&quot;, &quot;Times New Roman&quot;, serif" font-size="23.00" fill="#131313" stroke="#131313" stroke-width="0.55">Monitoring boundary is a Two-sided graph</text>
<text transform="translate(468.85 838.00) scale(0.9394 1)" font-family="&quot;Liberation Serif&quot;, &quot;Times New Roman&quot;, serif" font-size="23.00" fill="#ee2442" stroke="#ee2442" stroke-width="0.55">Monitoring boundary = 281</text>
<text transform="translate(158.95 787.90) scale(0.9221 1)" font-family="&quot;Liberation Serif&quot;, &quot;Times New Roman&quot;, serif" font-size="23.00" fill="#131313" stroke="#131313" stroke-width="0.55">Cumulative</text>
<text transform="translate(173.60 811.00) scale(0.9194 1)" font-family="&quot;Liberation Serif&quot;, &quot;Times New Roman&quot;, serif" font-size="23.00" fill="#131313" stroke="#131313" stroke-width="0.55">Z-Score</text>
<text transform="translate(1333.55 1311.70) scale(0.9479 1)" font-family="&quot;Liberation Serif&quot;, &quot;Times New Roman&quot;, serif" font-size="23.00" fill="#131313" stroke="#131313" stroke-width="0.55">Number of</text>
<text transform="translate(1348.87 1334.70) scale(0.9648 1)" font-family="&quot;Liberation Serif&quot;, &quot;Times New Roman&quot;, serif" font-size="23.00" fill="#131313" stroke="#131313" stroke-width="0.55">patients</text>
<text transform="translate(1320.76 1359.70) scale(0.9106 1)" font-family="&quot;Liberation Serif&quot;, &quot;Times New Roman&quot;, serif" font-size="23.00" fill="#131313" stroke="#131313" stroke-width="0.55">(Linear scaled)</text>
<text transform="translate(79.70 1095.65) rotate(-90) scale(0.8849 1)" font-family="&quot;Liberation Serif&quot;, &quot;Times New Roman&quot;, serif" font-size="24.50" fill="#131313" stroke="#131313" stroke-width="0.55">Favours</text>
<text transform="translate(103.20 1094.24) rotate(-90) scale(0.8697 1)" font-family="&quot;Liberation Serif&quot;, &quot;Times New Roman&quot;, serif" font-size="24.50" fill="#131313" stroke="#131313" stroke-width="0.55">Placebo</text>
<text transform="translate(79.70 1522.86) rotate(-90) scale(0.8978 1)" font-family="&quot;Liberation Serif&quot;, &quot;Times New Roman&quot;, serif" font-size="24.50" fill="#131313" stroke="#131313" stroke-width="0.55">Favours</text>
<text transform="translate(103.20 1523.88) rotate(-90) scale(0.9307 1)" font-family="&quot;Liberation Serif&quot;, &quot;Times New Roman&quot;, serif" font-size="24.50" fill="#131313" stroke="#131313" stroke-width="0.55">BoNTA</text>
<polygon points="203.40,1168.50 208.40,1163.50 213.40,1168.50 208.40,1173.50" fill="#000"/>
<polygon points="203.40,1378.50 208.40,1373.50 213.40,1378.50 208.40,1383.50" fill="#000"/>
<line x1="209.50" y1="1169.10" x2="1264.50" y2="1169.10" stroke="#a42640" stroke-width="2.0"/>
<line x1="209.50" y1="1379.10" x2="1264.50" y2="1379.10" stroke="#a42640" stroke-width="2.0"/>
<line x1="209.50" y1="821.00" x2="209.50" y2="1701.50" stroke="#1a1a1a" stroke-width="2.0"/>
<line x1="209.50" y1="1274.40" x2="1396.50" y2="1274.40" stroke="#1a1a1a" stroke-width="2.0"/>
<polyline points="197.30,836.00 209.50,822.30 221.30,836.00" fill="none" stroke="#1a1a1a" stroke-width="1.8" stroke-linejoin="miter"/>
<polyline points="1384.20,1263.20 1397.20,1274.40 1384.20,1286.60" fill="none" stroke="#1a1a1a" stroke-width="1.8" stroke-linejoin="miter"/>
<line x1="196.80" y1="1700.56" x2="209.50" y2="1700.56" stroke="#1a1a1a" stroke-width="1.6"/>
<text transform="translate(168.76 1708.16) scale(0.9850 1)" font-family="&quot;Liberation Sans&quot;, Arial, sans-serif" font-size="20.20" fill="#1e1e1e" stroke="#1e1e1e" stroke-width="0.15">−8</text>
<line x1="196.80" y1="1647.29" x2="209.50" y2="1647.29" stroke="#1a1a1a" stroke-width="1.6"/>
<text transform="translate(168.91 1654.89) scale(0.9850 1)" font-family="&quot;Liberation Sans&quot;, Arial, sans-serif" font-size="20.20" fill="#1e1e1e" stroke="#1e1e1e" stroke-width="0.15">−7</text>
<line x1="196.80" y1="1594.02" x2="209.50" y2="1594.02" stroke="#1a1a1a" stroke-width="1.6"/>
<text transform="translate(168.76 1601.62) scale(0.9850 1)" font-family="&quot;Liberation Sans&quot;, Arial, sans-serif" font-size="20.20" fill="#1e1e1e" stroke="#1e1e1e" stroke-width="0.15">−6</text>
<line x1="196.80" y1="1540.75" x2="209.50" y2="1540.75" stroke="#1a1a1a" stroke-width="1.6"/>
<text transform="translate(168.71 1548.35) scale(0.9850 1)" font-family="&quot;Liberation Sans&quot;, Arial, sans-serif" font-size="20.20" fill="#1e1e1e" stroke="#1e1e1e" stroke-width="0.15">−5</text>
<line x1="196.80" y1="1487.48" x2="209.50" y2="1487.48" stroke="#1a1a1a" stroke-width="1.6"/>
<text transform="translate(168.46 1495.08) scale(0.9850 1)" font-family="&quot;Liberation Sans&quot;, Arial, sans-serif" font-size="20.20" fill="#1e1e1e" stroke="#1e1e1e" stroke-width="0.15">−4</text>
<line x1="196.80" y1="1434.21" x2="209.50" y2="1434.21" stroke="#1a1a1a" stroke-width="1.6"/>
<text transform="translate(168.76 1441.81) scale(0.9850 1)" font-family="&quot;Liberation Sans&quot;, Arial, sans-serif" font-size="20.20" fill="#1e1e1e" stroke="#1e1e1e" stroke-width="0.15">−3</text>
<line x1="196.80" y1="1380.94" x2="209.50" y2="1380.94" stroke="#1a1a1a" stroke-width="1.6"/>
<text transform="translate(168.91 1388.54) scale(0.9850 1)" font-family="&quot;Liberation Sans&quot;, Arial, sans-serif" font-size="20.20" fill="#1e1e1e" stroke="#1e1e1e" stroke-width="0.15">−2</text>
<line x1="196.80" y1="1327.67" x2="209.50" y2="1327.67" stroke="#1a1a1a" stroke-width="1.6"/>
<text transform="translate(168.86 1335.27) scale(0.9850 1)" font-family="&quot;Liberation Sans&quot;, Arial, sans-serif" font-size="20.20" fill="#1e1e1e" stroke="#1e1e1e" stroke-width="0.15">−1</text>
<line x1="196.80" y1="1221.13" x2="209.50" y2="1221.13" stroke="#1a1a1a" stroke-width="1.6"/>
<text transform="translate(180.50 1228.73) scale(0.9850 1)" font-family="&quot;Liberation Sans&quot;, Arial, sans-serif" font-size="20.20" fill="#1e1e1e" stroke="#1e1e1e" stroke-width="0.15">1</text>
<line x1="196.80" y1="1167.86" x2="209.50" y2="1167.86" stroke="#1a1a1a" stroke-width="1.6"/>
<text transform="translate(180.55 1175.46) scale(0.9850 1)" font-family="&quot;Liberation Sans&quot;, Arial, sans-serif" font-size="20.20" fill="#1e1e1e" stroke="#1e1e1e" stroke-width="0.15">2</text>
<line x1="196.80" y1="1114.59" x2="209.50" y2="1114.59" stroke="#1a1a1a" stroke-width="1.6"/>
<text transform="translate(180.40 1122.19) scale(0.9850 1)" font-family="&quot;Liberation Sans&quot;, Arial, sans-serif" font-size="20.20" fill="#1e1e1e" stroke="#1e1e1e" stroke-width="0.15">3</text>
<line x1="196.80" y1="1061.32" x2="209.50" y2="1061.32" stroke="#1a1a1a" stroke-width="1.6"/>
<text transform="translate(180.10 1068.92) scale(0.9850 1)" font-family="&quot;Liberation Sans&quot;, Arial, sans-serif" font-size="20.20" fill="#1e1e1e" stroke="#1e1e1e" stroke-width="0.15">4</text>
<line x1="196.80" y1="1008.05" x2="209.50" y2="1008.05" stroke="#1a1a1a" stroke-width="1.6"/>
<text transform="translate(180.35 1015.65) scale(0.9850 1)" font-family="&quot;Liberation Sans&quot;, Arial, sans-serif" font-size="20.20" fill="#1e1e1e" stroke="#1e1e1e" stroke-width="0.15">5</text>
<line x1="196.80" y1="954.78" x2="209.50" y2="954.78" stroke="#1a1a1a" stroke-width="1.6"/>
<text transform="translate(180.40 962.38) scale(0.9850 1)" font-family="&quot;Liberation Sans&quot;, Arial, sans-serif" font-size="20.20" fill="#1e1e1e" stroke="#1e1e1e" stroke-width="0.15">6</text>
<line x1="196.80" y1="901.51" x2="209.50" y2="901.51" stroke="#1a1a1a" stroke-width="1.6"/>
<text transform="translate(180.55 909.11) scale(0.9850 1)" font-family="&quot;Liberation Sans&quot;, Arial, sans-serif" font-size="20.20" fill="#1e1e1e" stroke="#1e1e1e" stroke-width="0.15">7</text>
<line x1="196.80" y1="848.24" x2="209.50" y2="848.24" stroke="#1a1a1a" stroke-width="1.6"/>
<text transform="translate(180.40 855.84) scale(0.9850 1)" font-family="&quot;Liberation Sans&quot;, Arial, sans-serif" font-size="20.20" fill="#1e1e1e" stroke="#1e1e1e" stroke-width="0.15">8</text>
<line x1="295.60" y1="1274.40" x2="295.60" y2="1286.20" stroke="#1a1a1a" stroke-width="1.6"/>
<text transform="translate(283.66 1309.40) scale(1.0402 1)" font-family="&quot;Liberation Sans&quot;, Arial, sans-serif" font-size="20.00" font-style="italic" fill="#131313" stroke="#131313" stroke-width="0.4">65</text>
<line x1="588.80" y1="847.00" x2="588.80" y2="1698.50" stroke="#ee2442" stroke-width="2.0"/>
<polyline points="588.80,1169.10 399.70,1274.40 588.80,1379.10" fill="none" stroke="#ee2442" stroke-width="2.3" stroke-linejoin="miter"/>
<polyline points="209.20,820.60 266.00,974.80 294.40,1032.50" fill="none" stroke="#ee2442" stroke-width="1.7" stroke-linejoin="miter"/>
<polyline points="208.80,1726.40 265.70,1571.80 294.80,1514.40" fill="none" stroke="#ee2442" stroke-width="1.7" stroke-linejoin="miter"/>
<polyline points="209.50,1274.40 266.60,1440.20 295.30,1700.40 930.60,1533.50 1265.30,1535.40" fill="none" stroke="#5a28ff" stroke-width="2.0" stroke-linejoin="miter"/>
<polygon points="204.20,820.60 209.20,815.60 214.20,820.60 209.20,825.60" fill="#000"/>
<polygon points="261.00,974.80 266.00,969.80 271.00,974.80 266.00,979.80" fill="#000"/>
<polygon points="289.40,1032.50 294.40,1027.50 299.40,1032.50 294.40,1037.50" fill="#000"/>
<polygon points="203.80,1726.40 208.80,1721.40 213.80,1726.40 208.80,1731.40" fill="#000"/>
<polygon points="260.70,1571.80 265.70,1566.80 270.70,1571.80 265.70,1576.80" fill="#000"/>
<polygon points="289.80,1514.40 294.80,1509.40 299.80,1514.40 294.80,1519.40" fill="#000"/>
<polygon points="583.20,846.90 588.20,841.90 593.20,846.90 588.20,851.90" fill="#000"/>
<polygon points="583.20,1698.50 588.20,1693.50 593.20,1698.50 588.20,1703.50" fill="#000"/>
<polygon points="583.00,1168.30 588.00,1163.30 593.00,1168.30 588.00,1173.30" fill="#000"/>
<polygon points="583.00,1378.50 588.00,1373.50 593.00,1378.50 588.00,1383.50" fill="#000"/>
<polygon points="394.70,1274.40 399.70,1269.40 404.70,1274.40 399.70,1279.40" fill="#000"/>
<polygon points="1259.50,1168.60 1264.50,1163.60 1269.50,1168.60 1264.50,1173.60" fill="#000"/>
<polygon points="1259.50,1378.60 1264.50,1373.60 1269.50,1378.60 1264.50,1383.60" fill="#000"/>
<rect x="205.20" y="1270.10" width="8.60" height="8.60" fill="#000"/>
<rect x="262.30" y="1435.90" width="8.60" height="8.60" fill="#000"/>
<rect x="291.00" y="1696.10" width="8.60" height="8.60" fill="#000"/>
<rect x="926.30" y="1529.20" width="8.60" height="8.60" fill="#000"/>
<rect x="1261.00" y="1531.10" width="8.60" height="8.60" fill="#000"/>
<text transform="translate(1272.81 1541.50) scale(0.9240 1)" font-family="&quot;Liberation Sans&quot;, Arial, sans-serif" font-size="23.00" fill="#5a28ff" stroke="#5a28ff" stroke-width="0.4">Z-curve</text>
</g>
</svg>
</body></html>
